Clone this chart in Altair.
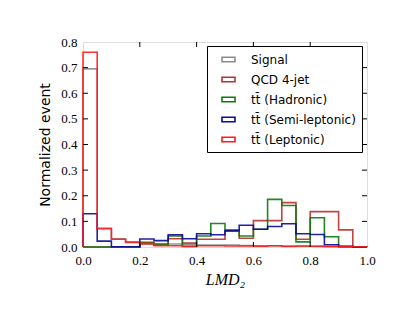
import altair as alt
import pandas as pd

# ---- data ----
bin_edges = [round(i * 0.05, 2) for i in range(21)]
series_names = ["Signal", "QCD 4-jet", "tt\u0304 (Hadronic)", "tt\u0304 (Semi-leptonic)", "tt\u0304 (Leptonic)"]
series_colors = ["#8c8c8c", "#b83030", "#0a7a0a", "#0a0a96", "#ff1a1a"]

signal = [0.695, 0.070, 0.032, 0.020, 0.015, 0.010, 0.012, 0.010, 0.008, 0.008,
          0.008, 0.006, 0.005, 0.005, 0.003, 0.003, 0.003, 0.002, 0.002, 0.001]
qcd = [0.0, 0.0, 0.0, 0.0, 0.012, 0.008, 0.032, 0.015, 0.030, 0.030,
       0.062, 0.034, 0.103, 0.103, 0.173, 0.030, 0.138, 0.138, 0.067, 0.0]
hadronic = [0.0, 0.0, 0.0, 0.0, 0.018, 0.012, 0.043, 0.002, 0.043, 0.092,
            0.066, 0.043, 0.069, 0.186, 0.162, 0.020, 0.114, 0.040, 0.0, 0.0]
semilep = [0.130, 0.023, 0.001, 0.001, 0.031, 0.025, 0.048, 0.032, 0.052, 0.048,
           0.064, 0.085, 0.069, 0.080, 0.091, 0.052, 0.049, 0.009, 0.003, 0.0]
leptonic = [0.760, 0.073, 0.030, 0.018, 0.014, 0.005, 0.005, 0.003, 0.005, 0.005,
            0.004, 0.004, 0.003, 0.005, 0.003, 0.004, 0.003, 0.002, 0.002, 0.001]

x_ticks = [0.0, 0.2, 0.4, 0.6, 0.8, 1.0]
y_ticks = [0.0, 0.1, 0.2, 0.3, 0.4, 0.5, 0.6, 0.7, 0.8]

# ---- build step-outline table ----
rows = []
for name, vals in zip(series_names, [signal, qcd, hadronic, semilep, leptonic]):
    k = 0
    rows.append({"series": name, "x": bin_edges[0], "y": 0.0, "idx": k}); k += 1
    for i, v in enumerate(vals):
        rows.append({"series": name, "x": bin_edges[i], "y": v, "idx": k}); k += 1
    rows.append({"series": name, "x": bin_edges[-1], "y": vals[-1], "idx": k}); k += 1
    rows.append({"series": name, "x": bin_edges[-1], "y": 0.0, "idx": k}); k += 1
df = pd.DataFrame(rows)

W, H = 284, 205
TL = 5
xs = alt.Scale(domain=[0, 1], nice=False, zero=False)
ys = alt.Scale(domain=[0, 0.8], nice=False)

serif = "Liberation Serif"

x_axis = alt.Axis(values=x_ticks, format=".1f", tickSize=0, domain=False, grid=False,
                  labelFlush=False, labelOverlap=False,
                  labelFont=serif, labelFontSize=13, labelPadding=7, labelColor="black",
                  title="LMD\u2082", titleFont=serif, titleFontStyle="italic",
                  titleFontWeight="normal", titleFontSize=16, titlePadding=4, titleColor="black")
y_axis = alt.Axis(values=y_ticks, format=".1f", tickSize=0, domain=False, grid=False,
                  labelFlush=False, labelOverlap=False,
                  labelFont=serif, labelFontSize=13, labelPadding=6, labelColor="black",
                  title="Normalized event", titleFont="DejaVu Sans", titleFontWeight="normal",
                  titleFontSize=14, titlePadding=8, titleColor="black")

lines = alt.Chart(df).mark_line(interpolate="step-after", strokeWidth=1.6, strokeOpacity=0.9).encode(
    x=alt.X("x:Q", scale=xs, axis=x_axis),
    y=alt.Y("y:Q", scale=ys, axis=y_axis),
    color=alt.Color("series:N", sort=series_names,
                    scale=alt.Scale(domain=series_names, range=series_colors),
                    legend=alt.Legend(orient="none", legendX=124, legendY=4, title=None,
                                      fillColor="white", strokeColor="black",
                                      padding=6, cornerRadius=0,
                                      symbolType="M-1,-0.35H1V0.35H-1Z", symbolSize=169,
                                      symbolStrokeWidth=1.6, symbolFillColor="white",
                                      symbolOffset=8,
                                      labelFont="DejaVu Sans", labelFontSize=12, labelColor="black",
                                      labelOffset=15, rowPadding=6, labelLimit=300)),
    order="idx:Q",
)

xt = pd.DataFrame({"x": x_ticks[1:-1]})
yt = pd.DataFrame({"y": y_ticks[1:-1]})
tick_style = dict(color="black", strokeWidth=1)
bottom = alt.Chart(xt).mark_rule(**tick_style).encode(x=alt.X("x:Q", scale=xs, axis=x_axis), y=alt.value(H), y2=alt.value(H - TL))
top = alt.Chart(xt).mark_rule(**tick_style).encode(x=alt.X("x:Q", scale=xs, axis=x_axis), y=alt.value(0), y2=alt.value(TL))
left = alt.Chart(yt).mark_rule(**tick_style).encode(y=alt.Y("y:Q", scale=ys, axis=y_axis), x=alt.value(0), x2=alt.value(TL))
right = alt.Chart(yt).mark_rule(**tick_style).encode(y=alt.Y("y:Q", scale=ys, axis=y_axis), x=alt.value(W), x2=alt.value(W - TL))

chart = alt.layer(lines, bottom, top, left, right).properties(
    width=W, height=H,
    autosize=alt.AutoSizeParams(type="none"),
    padding={"left": 75, "top": 34, "right": 411 - 16 - 75 - W, "bottom": 327 - 16 - 34 - H},
).configure_view(stroke="black", strokeWidth=2).configure_legend(strokeWidth=1.5).configure(background="white")

chart.save("out.html", embed_options={"renderer": "svg", "actions": False})
